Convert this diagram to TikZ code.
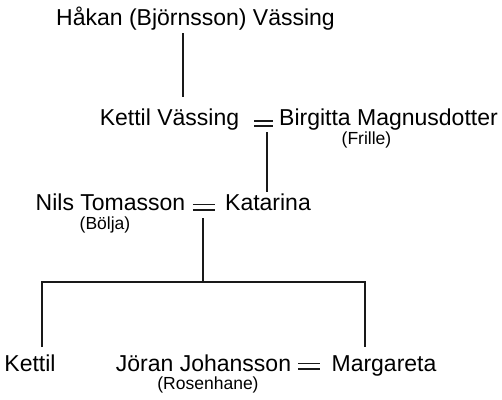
\documentclass[tikz,border=0pt]{standalone}
\usepackage{fontspec}
\setmainfont{Liberation Sans}
\begin{document}
\begin{tikzpicture}[x=1pt,y=-1pt,
  person/.style={anchor=base,inner sep=0pt,font=\fontsize{23}{27}\selectfont},
  subnote/.style={anchor=base,inner sep=0pt,font=\fontsize{17.5}{21}\selectfont},
  marr/.style={inner sep=0pt,minimum height=5pt,minimum width=18pt},
  link/.style={line width=1.6pt,color=black!90}]
\useasboundingbox[fill=white] (0,0) rectangle (502,399);
% people
\node[person] (hakan) at (195.5,25) {Håkan (Björnsson) Vässing};
\node[person] (kettilv) at (169.5,125) {Kettil Vässing};
\node[person] (birgitta) at (388.5,125) {Birgitta Magnusdotter};
\node[subnote] (frille) at (366.5,144) {(Frille)};
\node[person] (nils) at (110.5,210) {Nils Tomasson};
\node[person] (katarina) at (268,210) {Katarina};
\node[subnote] (bolja) at (105,229) {(Bölja)};
\node[person] (kettil) at (30,371) {Kettil};
\node[person] (joran) at (203.5,371) {Jöran Johansson};
\node[person] (margareta) at (384,371) {Margareta};
\node[subnote] (rosen) at (208,389) {(Rosenhane)};
% marriage signs
\node[marr] (m1) at (263.5,123.5) {};
\node[marr,minimum width=22pt] (m2) at (204,207) {};
\node[marr,minimum width=21pt] (m3) at (309,366) {};
\foreach \m in {m1,m2,m3}{
  \draw[link] (\m.north west) -- (\m.north east);
  \draw[link] (\m.south west) -- (\m.south east);
}
% connector points
\coordinate (a1) at (183,33);
\coordinate (a2) at (183,97);
\coordinate (b1) at (267,132);
\coordinate (b2) at (267,192);
\coordinate (c1) at (203,218);
\coordinate (c2) at (203,282);
\coordinate (l1) at (42,282);
\coordinate (l2) at (42,347);
\coordinate (r1) at (365,282);
\coordinate (r2) at (365,347);
\draw[link] (a1) -- (a2);
\draw[link] (b1) -- (b2);
\draw[link] (c1) -- (c2);
\draw[link] (l2) -- (l1) -- (r1) -- (r2);
\end{tikzpicture}
\end{document}
